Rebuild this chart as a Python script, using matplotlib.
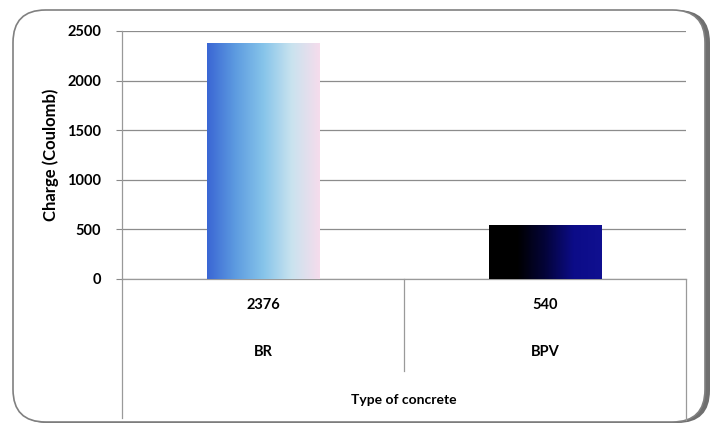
import matplotlib.pyplot as plt
import numpy as np
from matplotlib.colors import LinearSegmentedColormap
from matplotlib.patches import FancyBboxPatch
from matplotlib.lines import Line2D

concrete_types = ['BR', 'BPV']
charge = [2376, 540]
y_ticks = [0, 500, 1000, 1500, 2000, 2500]

bar_gradients = [
    ['#3a66d4', '#5d9be0', '#86c4ea', '#c9e3ef', '#f6dcec'],
    ['#000000', '#000000', '#04043a', '#0c0c88', '#101090'],
]

plt.rcParams['font.family'] = ['Lato', 'DejaVu Sans']

W, H = 723, 428
fig = plt.figure(figsize=(W / 100, H / 100), dpi=100)

# rounded chart frame with a soft shadow on the right/bottom
shadow = FancyBboxPatch((15 / W, 5 / H), 695 / W, 413 / H,
                        boxstyle='round,pad=0,rounding_size=0.045',
                        transform=fig.transFigure, facecolor='#6f6f6f',
                        edgecolor='none', zorder=-3, mutation_aspect=W / H)
frame = FancyBboxPatch((13 / W, 6 / H), 692 / W, 412 / H,
                       boxstyle='round,pad=0,rounding_size=0.045',
                       transform=fig.transFigure, facecolor='white',
                       edgecolor='#808080', linewidth=1.2, zorder=-2,
                       mutation_aspect=W / H)
fig.patches.extend([shadow, frame])

left, right, top, bottom = 122, 686, 31, 279
ax = fig.add_axes([left / W, 1 - bottom / H, (right - left) / W, (bottom - top) / H])
ax.set_facecolor('none')

x = np.arange(len(concrete_types))
bars = ax.bar(x, charge, width=0.4, color='none', zorder=2)

# horizontal gradient inside every bar
grad = np.linspace(0, 1, 256).reshape(1, -1)
for bar, cols in zip(bars, bar_gradients):
    cmap = LinearSegmentedColormap.from_list('bar', cols)
    x0, w, h = bar.get_x(), bar.get_width(), bar.get_height()
    im = ax.imshow(grad, cmap=cmap, aspect='auto', extent=[x0, x0 + w, 0, h],
                   zorder=2, interpolation='bicubic')
    im.set_clip_path(bar)

ax.set_xlim(-0.5, len(concrete_types) - 0.5)
ax.set_ylim(0, 2500)
ax.set_yticks(y_ticks)
ax.set_yticklabels([str(t) for t in y_ticks], fontsize=10.5, fontweight='bold')
ax.tick_params(axis='y', length=4, color='#888888', pad=11)
ax.set_xticks([])
ax.yaxis.grid(True, color='#8c8c8c', linewidth=0.9)
ax.set_axisbelow(True)
for side in ['top', 'right', 'bottom']:
    ax.spines[side].set_visible(False)
ax.spines['left'].set_color('#999999')
ax.spines['left'].set_linewidth(0.9)

ax.set_ylabel('Charge (Coulomb)', fontsize=12, fontweight='bold', labelpad=6)

# data table under the plot
xt = ax.get_xaxis_transform()
table_lines = [
    ([-0.5, -0.5], [0, -0.56]),
    ([0.5, 0.5], [0, -0.371]),
    ([1.5, 1.5], [0, -0.569]),
    ([-0.5, 1.5], [0, 0]),
]
for xs, ys in table_lines:
    ax.add_line(Line2D(xs, ys, transform=xt, color='#9a9a9a', linewidth=0.9,
                       clip_on=False, zorder=1))

for xi, name, val in zip(x, concrete_types, charge):
    ax.text(xi, -0.105, str(val), transform=xt, ha='center', va='center',
            fontsize=10.5, fontweight='bold')
    ax.text(xi, -0.294, name, transform=xt, ha='center', va='center',
            fontsize=10.5, fontweight='bold')

ax.text(0.5, -0.488, 'Type of concrete', transform=xt, ha='center', va='center',
        fontsize=10, fontweight='bold')

fig.savefig('out.png', dpi=100)
